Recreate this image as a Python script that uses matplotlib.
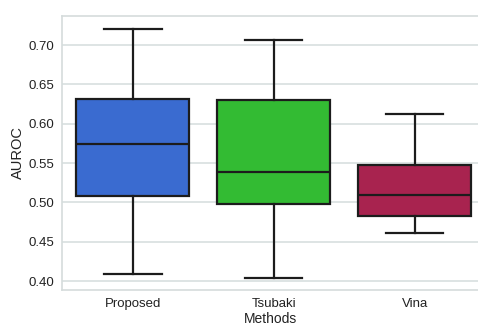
import matplotlib
matplotlib.use("Agg")
import matplotlib.pyplot as plt

# summary values
methods = ["Proposed", "Tsubaki", "Vina"]
whislo = [0.409, 0.404, 0.461]
q1 = [0.508, 0.498, 0.483]
med = [0.574, 0.539, 0.509]
q3 = [0.631, 0.630, 0.547]
whishi = [0.720, 0.706, 0.612]
colors = ["#3a6bd0", "#33bb33", "#a8234f"]

plt.rcParams['font.family'] = ['Liberation Sans', 'DejaVu Sans']

fig = plt.figure(figsize=(4.78, 3.26), dpi=100)
ax = fig.add_axes([0.130, 0.110, 0.870, 0.841])

stats = []
for i in range(len(methods)):
    stats.append({"label": methods[i], "whislo": whislo[i], "q1": q1[i],
                  "med": med[i], "q3": q3[i], "whishi": whishi[i], "fliers": []})

dark = "#1c1c1c"
bp = ax.bxp(stats, positions=range(len(methods)), widths=0.8, patch_artist=True,
            showfliers=False,
            boxprops=dict(edgecolor=dark, linewidth=1.6),
            medianprops=dict(color=dark, linewidth=1.6),
            whiskerprops=dict(color=dark, linewidth=1.6),
            capprops=dict(color=dark, linewidth=1.6),
            capwidths=0.41)
for patch, c in zip(bp["boxes"], colors):
    patch.set_facecolor(c)

ax.set_xlim(-0.5, 2.45)
ax.set_ylim(0.3886, 0.737)
ax.set_yticks([0.40, 0.45, 0.50, 0.55, 0.60, 0.65, 0.70])
ax.set_yticklabels(["%.2f" % v for v in ax.get_yticks()])
ax.yaxis.grid(True, color="#d8dfdf", linewidth=1.2)
ax.set_axisbelow(True)
for s in ["left", "top", "bottom"]:
    ax.spines[s].set_color("#d5dcdc")
    ax.spines[s].set_linewidth(1.2)
ax.spines["right"].set_visible(False)
ax.tick_params(length=0, labelsize=9.5, colors="#222222", pad=6)
ax.set_xlabel("Methods", fontsize=10, color="#222222", labelpad=1)
ax.set_ylabel("AUROC", fontsize=10.5, color="#222222", labelpad=2)

fig.savefig("out.png", dpi=100)
